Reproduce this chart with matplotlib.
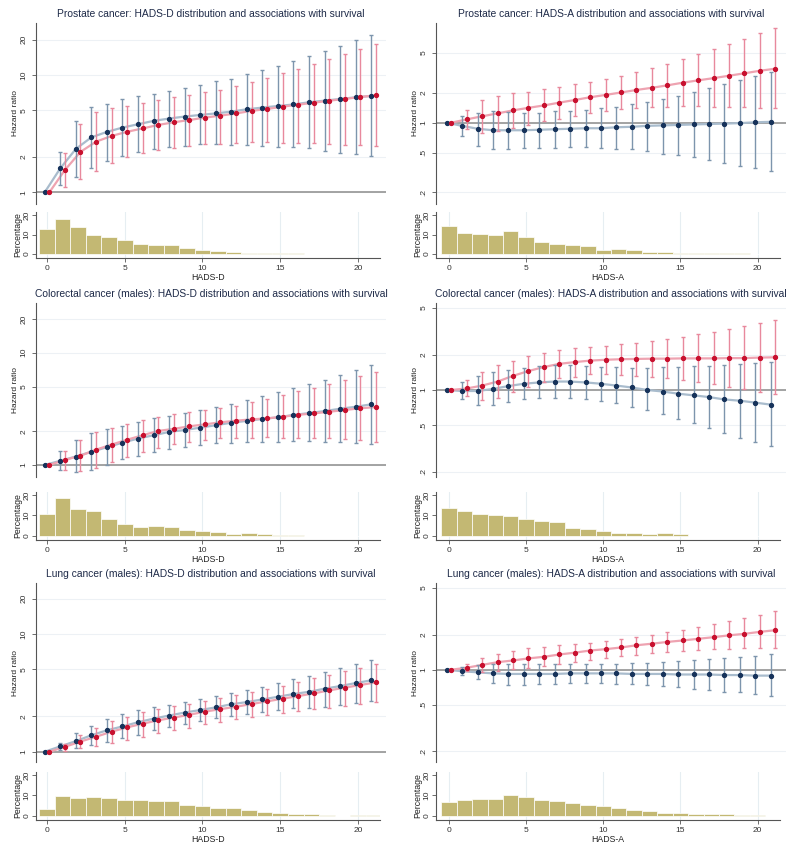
import numpy as np
import matplotlib
matplotlib.use("Agg")
import matplotlib.pyplot as plt
from matplotlib.ticker import NullLocator

plt.rcParams['font.family'] = ['Liberation Sans', 'DejaVu Sans']

scores = np.arange(22)

# ---- Prostate cancer, HADS-D
pro_d_blue_hr = [1, 1.60, 2.34, 2.94, 3.27, 3.56, 3.80, 4.06, 4.25, 4.42, 4.56, 4.70, 4.87, 5.10, 5.27, 5.44, 5.60, 5.85, 6.04, 6.24, 6.45, 6.62]
pro_d_blue_lo = [1, 1.15, 1.34, 1.60, 1.85, 2.05, 2.20, 2.34, 2.45, 2.50, 2.56, 2.58, 2.53, 2.53, 2.50, 2.45, 2.43, 2.37, 2.24, 2.16, 2.12, 2.04]
pro_d_blue_hi = [1, 2.22, 4.08, 5.30, 5.70, 6.20, 6.60, 6.90, 7.30, 7.70, 8.20, 8.80, 9.30, 10.1, 11.0, 12.0, 13.2, 14.6, 16.1, 17.8, 19.9, 21.9]
pro_d_red_hr = [1, 1.55, 2.21, 2.70, 3.02, 3.28, 3.50, 3.75, 3.95, 4.13, 4.33, 4.50, 4.70, 4.94, 5.13, 5.37, 5.58, 5.80, 6.04, 6.24, 6.49, 6.70]
pro_d_red_lo = [1, 1.12, 1.30, 1.53, 1.79, 1.99, 2.15, 2.30, 2.40, 2.48, 2.56, 2.60, 2.65, 2.66, 2.66, 2.65, 2.63, 2.62, 2.58, 2.55, 2.53, 2.50]
pro_d_red_hi = [1, 2.15, 3.80, 4.87, 5.20, 5.44, 5.80, 6.10, 6.45, 6.75, 7.10, 7.50, 8.05, 8.70, 9.40, 10.3, 11.3, 12.4, 13.7, 15.1, 16.6, 18.3]
pro_d_pct = [13, 17.7, 13.8, 9.8, 8.8, 7.3, 5, 4.7, 4.8, 3, 2.2, 1.8, 1, 0.7, 0.5, 0.3, 0.3, 0.2, 0.2, 0.2, 0.2]

# ---- Prostate cancer, HADS-A
pro_a_blue_hr = [1, 0.93, 0.87, 0.84, 0.84, 0.84, 0.85, 0.86, 0.87, 0.88, 0.88, 0.90, 0.91, 0.93, 0.94, 0.95, 0.96, 0.97, 0.98, 0.99, 1.01, 1.02]
pro_a_blue_lo = [1, 0.74, 0.59, 0.55, 0.54, 0.56, 0.56, 0.56, 0.57, 0.57, 0.56, 0.55, 0.54, 0.52, 0.49, 0.47, 0.45, 0.42, 0.39, 0.37, 0.35, 0.33]
pro_a_blue_hi = [1, 1.17, 1.26, 1.31, 1.27, 1.26, 1.26, 1.30, 1.32, 1.35, 1.39, 1.45, 1.53, 1.62, 1.73, 1.87, 2.05, 2.24, 2.44, 2.68, 2.94, 3.25]
pro_a_red_hr = [1, 1.08, 1.16, 1.24, 1.33, 1.41, 1.49, 1.59, 1.69, 1.80, 1.90, 2.01, 2.13, 2.24, 2.37, 2.52, 2.66, 2.80, 2.96, 3.13, 3.32, 3.48]
pro_a_red_lo = [1, 0.86, 0.79, 0.83, 0.89, 0.95, 1.05, 1.10, 1.17, 1.24, 1.31, 1.37, 1.41, 1.44, 1.45, 1.46, 1.46, 1.45, 1.44, 1.43, 1.40, 1.39]
pro_a_red_hi = [1, 1.34, 1.69, 1.86, 1.97, 2.05, 2.16, 2.30, 2.44, 2.58, 2.72, 2.94, 3.20, 3.51, 3.88, 4.32, 4.85, 5.45, 6.16, 6.96, 7.86, 8.84]
pro_a_pct = [14.3, 10.7, 10.3, 10, 11.7, 8.5, 6.3, 5.2, 4.5, 4, 2, 2.5, 2.2, 1.2, 1.2, 0.5, 0.6, 0.5, 0.6, 0.3, 0.2]

# ---- Colorectal cancer (males), HADS-D
col_d_blue_hr = [1, 1.09, 1.19, 1.31, 1.44, 1.58, 1.72, 1.84, 1.97, 2.05, 2.15, 2.26, 2.38, 2.47, 2.57, 2.66, 2.79, 2.90, 3.02, 3.17, 3.30, 3.47]
col_d_blue_lo = [1, 0.90, 0.86, 0.90, 1.00, 1.12, 1.21, 1.31, 1.39, 1.46, 1.51, 1.56, 1.58, 1.60, 1.61, 1.61, 1.64, 1.62, 1.61, 1.59, 1.56, 1.53]
col_d_blue_hi = [1, 1.33, 1.66, 1.91, 2.08, 2.24, 2.41, 2.60, 2.75, 2.92, 3.07, 3.28, 3.52, 3.76, 4.08, 4.43, 4.82, 5.26, 5.75, 6.37, 7.05, 7.77]
col_d_red_hr = [1, 1.11, 1.21, 1.37, 1.52, 1.68, 1.84, 2.01, 2.10, 2.21, 2.30, 2.40, 2.48, 2.55, 2.60, 2.69, 2.80, 2.88, 2.98, 3.09, 3.20, 3.28]
col_d_red_lo = [1, 0.90, 0.88, 0.95, 1.07, 1.19, 1.31, 1.41, 1.53, 1.61, 1.66, 1.73, 1.75, 1.75, 1.76, 1.75, 1.75, 1.73, 1.73, 1.69, 1.66, 1.61]
col_d_red_hi = [1, 1.33, 1.67, 1.95, 2.15, 2.32, 2.52, 2.69, 2.83, 2.97, 3.09, 3.21, 3.38, 3.61, 3.87, 4.16, 4.53, 4.88, 5.26, 5.70, 6.24, 6.68]
col_d_pct = [10.8, 18.8, 13, 12.2, 8.5, 5.7, 4.3, 4.9, 4.3, 3.1, 2.3, 1.9, 1, 1.4, 0.7, 0.3, 0.3, 0.2, 0.2, 0.2, 0.2, 0.2]

# ---- Colorectal cancer (males), HADS-A
col_a_blue_hr = [1, 0.98, 0.98, 1.02, 1.08, 1.13, 1.16, 1.18, 1.18, 1.16, 1.13, 1.09, 1.05, 1.00, 0.97, 0.93, 0.90, 0.87, 0.83, 0.81, 0.78, 0.75]
col_a_blue_lo = [1, 0.83, 0.74, 0.74, 0.79, 0.84, 0.86, 0.86, 0.86, 0.84, 0.81, 0.77, 0.71, 0.67, 0.62, 0.56, 0.52, 0.47, 0.43, 0.39, 0.36, 0.33]
col_a_blue_hi = [1, 1.16, 1.32, 1.41, 1.48, 1.53, 1.60, 1.62, 1.62, 1.60, 1.58, 1.57, 1.55, 1.55, 1.56, 1.57, 1.59, 1.61, 1.63, 1.65, 1.69, 1.72]
col_a_red_hr = [1, 1.03, 1.09, 1.18, 1.32, 1.45, 1.57, 1.67, 1.73, 1.78, 1.81, 1.83, 1.84, 1.85, 1.85, 1.86, 1.86, 1.86, 1.87, 1.87, 1.89, 1.90]
col_a_red_lo = [1, 0.88, 0.82, 0.86, 0.97, 1.07, 1.16, 1.26, 1.30, 1.36, 1.36, 1.34, 1.32, 1.30, 1.26, 1.22, 1.16, 1.12, 1.07, 1.01, 0.97, 0.93]
col_a_red_hi = [1, 1.22, 1.43, 1.62, 1.77, 1.94, 2.07, 2.19, 2.30, 2.34, 2.39, 2.45, 2.50, 2.60, 2.72, 2.83, 2.98, 3.14, 3.31, 3.49, 3.70, 3.95]
col_a_pct = [13.9, 12.2, 10.6, 10, 9.9, 8.5, 7.3, 6.6, 3.7, 3.5, 2.3, 1.2, 1.2, 1, 1.2, 0.7, 0.2, 0.2, 0.2, 0.2, 0.2, 0.2]

# ---- Lung cancer (males), HADS-D
lun_d_blue_hr = [1, 1.11, 1.23, 1.38, 1.52, 1.64, 1.78, 1.91, 2.03, 2.15, 2.26, 2.38, 2.53, 2.64, 2.78, 2.93, 3.09, 3.23, 3.43, 3.61, 3.83, 4.04]
lun_d_blue_lo = [1, 1.03, 1.08, 1.14, 1.22, 1.31, 1.40, 1.53, 1.61, 1.72, 1.82, 1.92, 2.02, 2.10, 2.19, 2.26, 2.33, 2.36, 2.41, 2.49, 2.58, 2.70]
lun_d_blue_hi = [1, 1.19, 1.43, 1.67, 1.89, 2.09, 2.25, 2.38, 2.51, 2.64, 2.78, 2.95, 3.15, 3.32, 3.52, 3.80, 4.12, 4.39, 4.78, 5.14, 5.60, 6.06]
lun_d_red_hr = [1, 1.10, 1.22, 1.34, 1.48, 1.61, 1.73, 1.85, 1.95, 2.06, 2.19, 2.30, 2.41, 2.54, 2.68, 2.82, 2.97, 3.13, 3.32, 3.50, 3.69, 3.88]
lun_d_red_lo = [1, 1.01, 1.07, 1.12, 1.18, 1.26, 1.34, 1.43, 1.52, 1.60, 1.71, 1.80, 1.89, 1.98, 2.05, 2.13, 2.22, 2.29, 2.36, 2.46, 2.56, 2.66]
lun_d_red_hi = [1, 1.17, 1.39, 1.60, 1.82, 1.99, 2.17, 2.30, 2.45, 2.56, 2.70, 2.84, 3.01, 3.19, 3.39, 3.64, 3.88, 4.20, 4.49, 4.85, 5.18, 5.56]
lun_d_pct = [3.5, 9.7, 8.6, 9.3, 9, 7.6, 7.8, 7.1, 7.3, 5.5, 4.8, 4, 3.8, 2.9, 2.1, 1.4, 0.8, 0.8, 0.5, 0.2, 0.3, 0.3]

# ---- Lung cancer (males), HADS-A
lun_a_blue_hr = [1, 0.97, 0.95, 0.93, 0.92, 0.92, 0.92, 0.92, 0.93, 0.93, 0.93, 0.93, 0.92, 0.92, 0.92, 0.91, 0.91, 0.91, 0.90, 0.90, 0.89, 0.89]
lun_a_blue_lo = [1, 0.90, 0.83, 0.77, 0.74, 0.74, 0.75, 0.76, 0.77, 0.77, 0.77, 0.76, 0.75, 0.74, 0.73, 0.71, 0.69, 0.67, 0.65, 0.64, 0.62, 0.59]
lun_a_blue_hi = [1, 1.05, 1.10, 1.12, 1.13, 1.13, 1.13, 1.13, 1.13, 1.13, 1.13, 1.13, 1.14, 1.15, 1.16, 1.18, 1.21, 1.23, 1.25, 1.28, 1.32, 1.35]
lun_a_red_hr = [1, 1.04, 1.10, 1.16, 1.20, 1.25, 1.29, 1.35, 1.40, 1.46, 1.50, 1.55, 1.62, 1.67, 1.73, 1.78, 1.84, 1.90, 1.97, 2.03, 2.11, 2.18]
lun_a_red_lo = [1, 0.97, 0.95, 0.97, 1.01, 1.03, 1.07, 1.13, 1.17, 1.21, 1.26, 1.30, 1.34, 1.39, 1.43, 1.46, 1.48, 1.50, 1.51, 1.52, 1.52, 1.52]
lun_a_red_hi = [1, 1.12, 1.25, 1.36, 1.44, 1.52, 1.57, 1.63, 1.67, 1.71, 1.77, 1.83, 1.92, 1.99, 2.09, 2.20, 2.32, 2.44, 2.61, 2.79, 2.97, 3.18]
lun_a_pct = [6.9, 7.9, 8.1, 8.1, 10.2, 9.3, 7.9, 7.4, 6.2, 5.5, 4.8, 4.1, 2.8, 2.2, 1.6, 1.6, 1, 1, 0.7, 0.3, 0.3]

left_ticks, left_labels = [1, 2, 5, 10, 20], ['1', '2', '5', '10', '20']
right_ticks, right_labels = [0.2, 0.5, 1, 2, 5], ['.2', '.5', '1', '2', '5']

W, H = 800, 851
BLUE_M, BLUE_L, BLUE_E = '#16325a', '#a9bccd', '#7d95ad'
RED_M, RED_L, RED_E = '#c8102e', '#eea3b1', '#e8899d'
KHAKI = '#c3b873'
TXT = '#1e2a48'


def box(left, top, right, bottom):
    return [left / W, 1 - bottom / H, (right - left) / W, (bottom - top) / H]


def hr_axes(fig, cols, rows, xlim, ylim, ticks, labels, blue, red, title):
    ax = fig.add_axes(box(cols[0], rows[0], cols[1], rows[1]))
    ax.set_yscale('log')
    ax.set_xlim(xlim)
    ax.set_ylim(ylim)
    for t in ticks:
        ax.axhline(t, color='#edf1f5', lw=0.8, zorder=0)
    ax.axhline(1, color='#9c9c9c', lw=1.3, zorder=1)
    for (hr, lo, hi), dx, mc, lc, ec in [(blue, -0.15, BLUE_M, BLUE_L, BLUE_E),
                                         (red, 0.15, RED_M, RED_L, RED_E)]:
        hr, lo, hi = np.array(hr), np.array(lo), np.array(hi)
        xs = scores + dx
        ax.plot(xs, hr, color=lc, lw=1.6, zorder=2)
        ax.errorbar(xs[1:], hr[1:], yerr=[hr[1:] - lo[1:], hi[1:] - hr[1:]], fmt='none',
                    ecolor=ec, elinewidth=1.0, capsize=1.6, capthick=1.0, zorder=3)
        ax.plot(xs, hr, 'o', color=mc, ms=2.8, zorder=4)
    ax.set_yticks(ticks)
    ax.set_yticklabels(labels, rotation=90, va='center', fontsize=6, color='#333333')
    ax.yaxis.set_minor_locator(NullLocator())
    ax.tick_params(axis='y', length=3, width=0.6, color='#555555', pad=3)
    ax.set_xticks([])
    for s in ['top', 'right', 'bottom']:
        ax.spines[s].set_visible(False)
    ax.spines['left'].set_color('#555555')
    ax.spines['left'].set_linewidth(0.8)
    ax.set_ylabel('Hazard ratio', fontsize=6, color='#222222', labelpad=1)
    ax.set_title(title, fontsize=7.4, color=TXT, pad=4)
    return ax


def pct_axes(fig, cols, rows, xlim, pct, xlabel):
    ax = fig.add_axes(box(cols[0], rows[0], cols[1], rows[1]))
    ax.set_xlim(xlim)
    ax.set_ylim(-2, 21.5)
    for t in [0, 5, 10, 15, 20]:
        ax.axvline(t, color='#e6eef2', lw=0.8, zorder=0)
    ax.bar(np.arange(len(pct)), pct, width=1, color=KHAKI, edgecolor='white', lw=0.5, zorder=2)
    ax.set_xticks([0, 5, 10, 15, 20])
    ax.set_yticks([0, 10, 20])
    ax.set_yticklabels(['0', '10', '20'], rotation=90, va='center', fontsize=6, color='#333333')
    ax.tick_params(axis='x', length=3, width=0.6, color='#555555', pad=2, labelsize=6, labelcolor='#333333')
    ax.tick_params(axis='y', length=3, width=0.6, color='#555555', pad=1)
    for s in ['top', 'right']:
        ax.spines[s].set_visible(False)
    for s in ['left', 'bottom']:
        ax.spines[s].set_color('#555555')
        ax.spines[s].set_linewidth(0.8)
    ax.set_ylabel('Percentage', fontsize=6.3, color='#222222', labelpad=1)
    ax.set_xlabel(xlabel, fontsize=6.3, color='#222222', labelpad=1)
    return ax


fig = plt.figure(figsize=(8, 8.51), dpi=100)

left_main, left_hist, left_xlim, left_hxlim = (36, 386), (36, 380), (-0.71, 21.8), (-0.71, 21.42)
right_main, right_hist, right_xlim, right_hxlim = (436, 786), (436, 780), (-0.84, 21.84), (-0.84, 21.45)

rows = [
    ((23, 204), (212, 258), (0.795, 27.7), (0.153, 10.0),
     'Prostate cancer', (pro_d_blue_hr, pro_d_blue_lo, pro_d_blue_hi), (pro_d_red_hr, pro_d_red_lo, pro_d_red_hi), pro_d_pct,
     (pro_a_blue_hr, pro_a_blue_lo, pro_a_blue_hi), (pro_a_red_hr, pro_a_red_lo, pro_a_red_hi), pro_a_pct),
    ((303, 477), (492, 540), (0.782, 27.7), (0.181, 5.52),
     'Colorectal cancer (males)', (col_d_blue_hr, col_d_blue_lo, col_d_blue_hi), (col_d_red_hr, col_d_red_lo, col_d_red_hi), col_d_pct,
     (col_a_blue_hr, col_a_blue_lo, col_a_blue_hi), (col_a_red_hr, col_a_red_lo, col_a_red_hi), col_a_pct),
    ((583, 762), (772, 820), (0.818, 27.1), (0.162, 5.53),
     'Lung cancer (males)', (lun_d_blue_hr, lun_d_blue_lo, lun_d_blue_hi), (lun_d_red_hr, lun_d_red_lo, lun_d_red_hi), lun_d_pct,
     (lun_a_blue_hr, lun_a_blue_lo, lun_a_blue_hi), (lun_a_red_hr, lun_a_red_lo, lun_a_red_hi), lun_a_pct),
]

for main_rows, hist_rows, ylim_d, ylim_a, name, d_blue, d_red, d_pct, a_blue, a_red, a_pct in rows:
    hr_axes(fig, left_main, main_rows, left_xlim, ylim_d, left_ticks, left_labels, d_blue, d_red,
            name + ': HADS-D distribution and associations with survival')
    pct_axes(fig, left_hist, hist_rows, left_hxlim, d_pct, 'HADS-D')
    hr_axes(fig, right_main, main_rows, right_xlim, ylim_a, right_ticks, right_labels, a_blue, a_red,
            name + ': HADS-A distribution and associations with survival')
    pct_axes(fig, right_hist, hist_rows, right_hxlim, a_pct, 'HADS-A')

fig.savefig('out.png', dpi=100, facecolor='white')
